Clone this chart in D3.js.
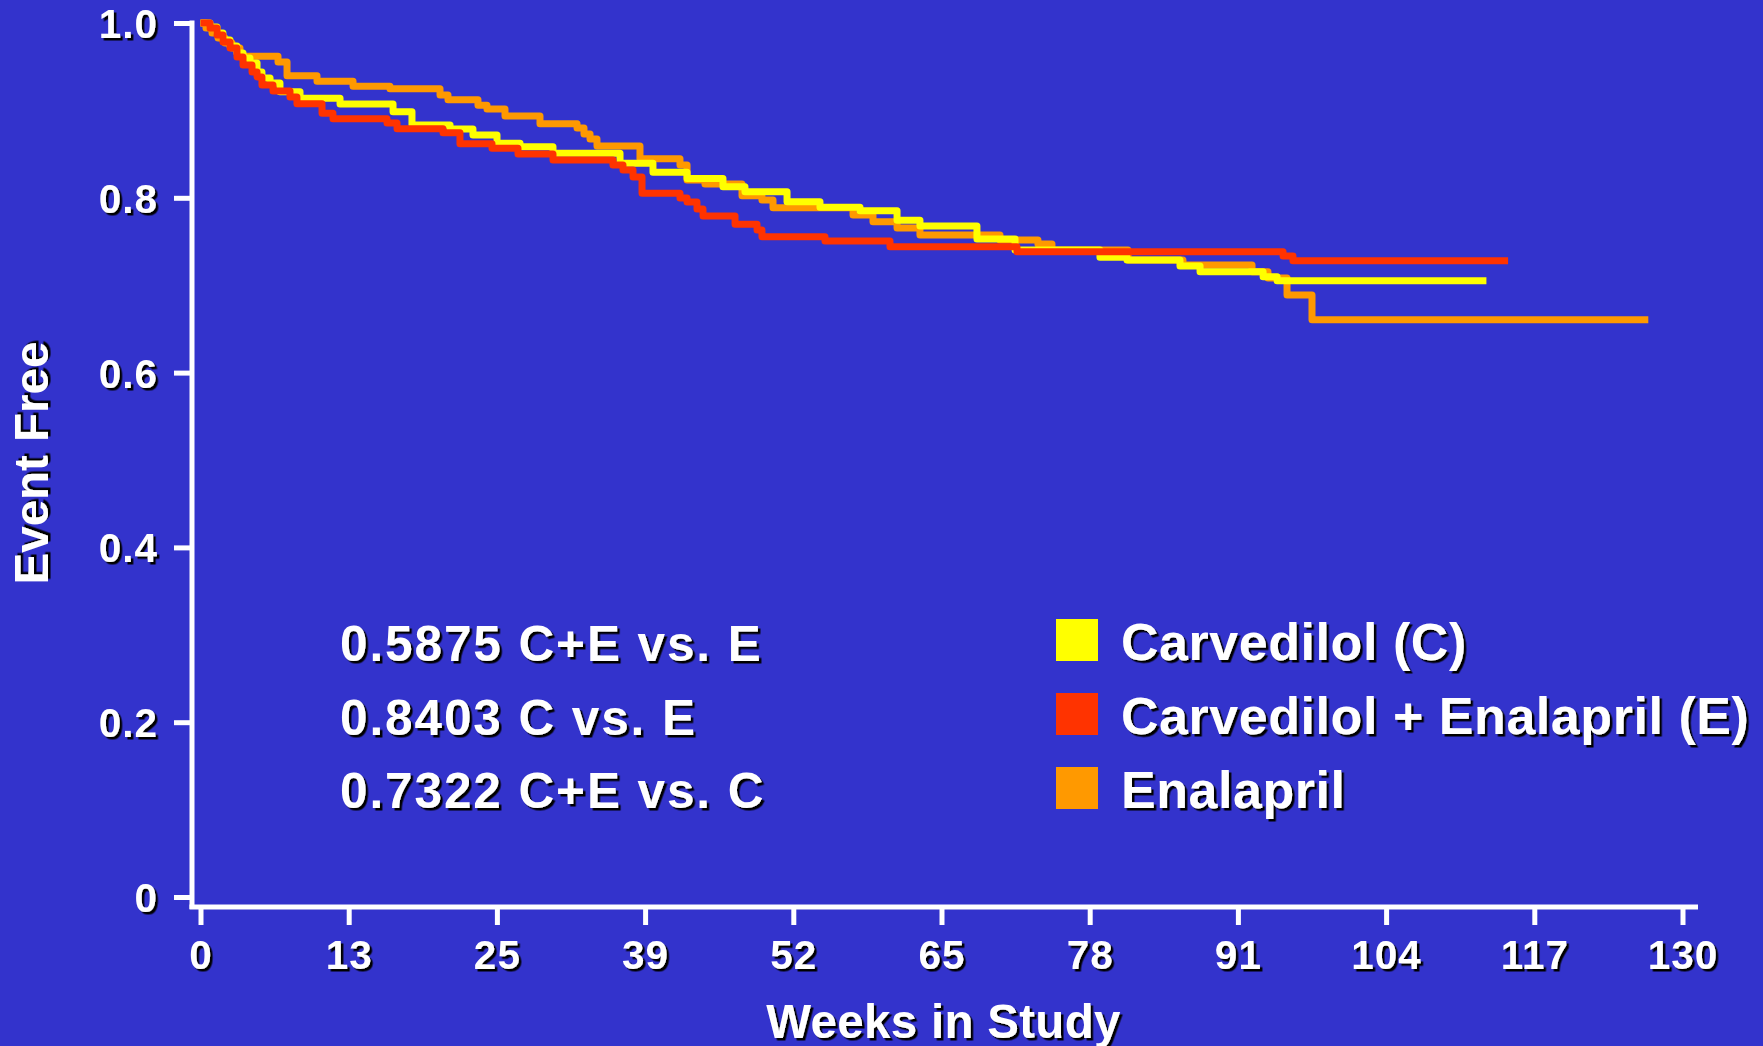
<!DOCTYPE html>
<html>
<head>
<meta charset="utf-8">
<script src="https://cdn.jsdelivr.net/npm/d3@7"></script>
<style>
  html, body { margin: 0; padding: 0; background: #3333CC; }
  svg { display: block; }
  text { font-family: "Liberation Sans", Arial, Helvetica, sans-serif; font-weight: bold; fill: #FFFFFF; }
</style>
</head>
<body>
<svg id="chart" width="1763" height="1046"></svg>
<script>
// ---------------- DATA ----------------
const seriesNames = ["Carvedilol (C)", "Carvedilol + Enalapril (E)", "Enalapril"];

// Carvedilol (C)
const carvWeeks = [0, 0.83, 1.45, 1.97, 2.59, 3.20, 3.73, 4.34, 4.96, 5.39, 6.10, 6.97, 8.73, 12.24, 16.89, 18.55, 21.89, 23.90, 26.01, 28.03, 30.92, 36.80, 39.69, 42.68, 45.83, 47.76, 51.45, 54.34, 57.85, 61.10, 63.11, 68.11, 71.45, 78.90, 81.27, 85.92, 87.68, 93.21, 94.44, 112.8];
const carvSurv  = [1.0, 0.9954, 0.9886, 0.9805, 0.9737, 0.9657, 0.9600, 0.9542, 0.9439, 0.9371, 0.9314, 0.9214, 0.9138, 0.9073, 0.8985, 0.8833, 0.8787, 0.8719, 0.8623, 0.8585, 0.8509, 0.8395, 0.8292, 0.8222, 0.8127, 0.8070, 0.7955, 0.7891, 0.7853, 0.7742, 0.7677, 0.7529, 0.7403, 0.7319, 0.7288, 0.7220, 0.7155, 0.7097, 0.7052, 0.7052];

// Carvedilol + Enalapril (E)
const combWeeks = [0, 0.83, 1.45, 1.97, 2.59, 3.20, 3.73, 4.52, 4.96, 5.39, 6.36, 7.85, 8.46, 10.66, 11.62, 16.36, 17.24, 21.27, 22.76, 25.57, 27.85, 30.92, 36.18, 37.06, 37.94, 38.73, 42.06, 42.68, 43.55, 44.08, 46.89, 48.82, 49.25, 54.78, 60.48, 71.62, 94.96, 95.83, 114.7];
const combSurv  = [1.0, 0.9943, 0.9863, 0.9783, 0.9714, 0.9611, 0.9519, 0.9439, 0.9382, 0.9291, 0.9222, 0.9153, 0.9077, 0.8967, 0.8905, 0.8856, 0.8790, 0.8745, 0.8619, 0.8566, 0.8501, 0.8432, 0.8375, 0.8318, 0.8238, 0.8052, 0.7998, 0.7952, 0.7872, 0.7792, 0.7697, 0.7632, 0.7555, 0.7506, 0.7441, 0.7383, 0.7334, 0.7280, 0.7280];

// Enalapril
const enalWeeks = [0, 0.48, 1.01, 1.54, 2.15, 2.76, 3.46, 6.80, 7.59, 10.22, 13.38, 16.62, 21.01, 21.71, 24.34, 25.13, 26.71, 29.78, 33.03, 33.64, 34.17, 34.78, 38.55, 42.06, 42.68, 44.25, 47.50, 49.25, 50.22, 57.24, 58.99, 61.10, 63.11, 70.13, 73.46, 74.69, 81.36, 86.18, 92.24, 93.64, 95.31, 97.50, 127.0];
const enalSurv  = [1.0, 0.9943, 0.9886, 0.9828, 0.9771, 0.9714, 0.9619, 0.9554, 0.9396, 0.9333, 0.9276, 0.9248, 0.9176, 0.9122, 0.9058, 0.9016, 0.8936, 0.8848, 0.8799, 0.8730, 0.8673, 0.8593, 0.8447, 0.8375, 0.8204, 0.8158, 0.8024, 0.7975, 0.7887, 0.7803, 0.7727, 0.7654, 0.7574, 0.7517, 0.7471, 0.7403, 0.7288, 0.7231, 0.7155, 0.7082, 0.6888, 0.6605, 0.6605];

const xTickValues = [0, 13, 26, 39, 52, 65, 78, 91, 104, 117, 130];
const xTickLabels = ["0", "13", "25", "39", "52", "65", "78", "91", "104", "117", "130"];
const yTickValues = [0, 0.2, 0.4, 0.6, 0.8, 1.0];
const yTickLabels = ["0", "0.2", "0.4", "0.6", "0.8", "1.0"];

const pValueLines = ["0.5875 C+E vs. E", "0.8403 C vs. E", "0.7322 C+E vs. C"];

const xTitle = "Weeks in Study";
const yTitle = "Event Free";

// ---------------- STYLE ----------------
const colors = { carv: "#FFFF00", comb: "#FF3300", enal: "#FF9900" };

const svg = d3.select("#chart");

const defs = svg.append("defs");
const f = defs.append("filter").attr("id", "shadow")
  .attr("x", "-10%").attr("y", "-10%").attr("width", "130%").attr("height", "140%");
f.append("feDropShadow").attr("dx", 2.5).attr("dy", 2.5).attr("stdDeviation", 0.4)
  .attr("flood-color", "#000000").attr("flood-opacity", 1);

const x = d3.scaleLinear().domain([0, 130]).range([200.5, 1682.5]);
const y = d3.scaleLinear().domain([0, 1]).range([897, 23]);

const axisColor = "#FFFFFF";
const axisW = 5;

// spines
svg.append("line").attr("x1", 192).attr("x2", 192).attr("y1", y(1) - axisW / 2).attr("y2", 909)
  .attr("stroke", axisColor).attr("stroke-width", axisW);
svg.append("line").attr("x1", 189.5).attr("x2", 1698).attr("y1", 907).attr("y2", 907)
  .attr("stroke", axisColor).attr("stroke-width", axisW);

// y axis ticks
const yAxis = d3.axisLeft(y).tickValues(yTickValues)
  .tickFormat((d, i) => yTickLabels[i]).tickSize(18).tickPadding(16);
const gy = svg.append("g").attr("transform", "translate(192,0)").call(yAxis);
gy.select(".domain").remove();
gy.selectAll(".tick line").attr("stroke", axisColor).attr("stroke-width", axisW);
gy.selectAll(".tick text").attr("font-size", 40.5).attr("dy", "0.36em")
  .attr("letter-spacing", 1)
  .attr("filter", "url(#shadow)").style("fill", "#FFFFFF")
  .style("font-family", '"Liberation Sans", Arial, sans-serif').style("font-weight", "bold");

// x axis ticks
const xAxis = d3.axisBottom(x).tickValues(xTickValues)
  .tickFormat((d, i) => xTickLabels[i]).tickSize(18).tickPadding(15);
const gx = svg.append("g").attr("transform", "translate(0,907)").call(xAxis);
gx.select(".domain").remove();
gx.selectAll(".tick line").attr("stroke", axisColor).attr("stroke-width", axisW);
gx.selectAll(".tick text").attr("font-size", 40.5)
  .attr("letter-spacing", 1)
  .attr("filter", "url(#shadow)").style("fill", "#FFFFFF")
  .style("font-family", '"Liberation Sans", Arial, sans-serif').style("font-weight", "bold");

// axis titles
svg.append("text").attr("transform", "translate(48,463) rotate(-90)")
  .attr("text-anchor", "middle").attr("font-size", 47.5).attr("filter", "url(#shadow)")
  .text(yTitle);
svg.append("text").attr("x", (x(0) + x(130)) / 2 + 2).attr("y", 1038)
  .attr("text-anchor", "middle").attr("font-size", 47.5).attr("letter-spacing", 0.3)
  .attr("filter", "url(#shadow)")
  .text(xTitle);

// curves
const line = d3.line().x(d => x(d[0])).y(d => y(d[1])).curve(d3.curveStepAfter);
const series = [
  { key: "enal", weeks: enalWeeks, surv: enalSurv },
  { key: "carv", weeks: carvWeeks, surv: carvSurv },
  { key: "comb", weeks: combWeeks, surv: combSurv }
];
series.forEach(s => {
  const pts = s.weeks.map((w, i) => [w, s.surv[i]]);
  svg.append("path").datum(pts).attr("d", line)
    .attr("fill", "none").attr("stroke", colors[s.key]).attr("stroke-width", 7)
    .attr("stroke-linejoin", "round").attr("stroke-linecap", "butt");
});

// p-value annotations
const pBase = [661, 735, 808];
svg.append("g").selectAll("text").data(pValueLines).join("text")
  .attr("x", 340).attr("y", (d, i) => pBase[i])
  .attr("font-size", 49.5).attr("letter-spacing", 1.9)
  .attr("filter", "url(#shadow)").text(d => d);

// legend
const legendKeys = ["carv", "comb", "enal"];
const legBase = [660, 734, 808];
const lg = svg.append("g");
legendKeys.forEach((k, i) => {
  lg.append("rect").attr("x", 1056).attr("y", legBase[i] - 41).attr("width", 42).attr("height", 42)
    .attr("fill", colors[k]);
  lg.append("text").attr("x", 1121).attr("y", legBase[i]).attr("font-size", 52)
    .attr("letter-spacing", 0.55)
    .attr("filter", "url(#shadow)").text(seriesNames[i]);
});
</script>
</body>
</html>
